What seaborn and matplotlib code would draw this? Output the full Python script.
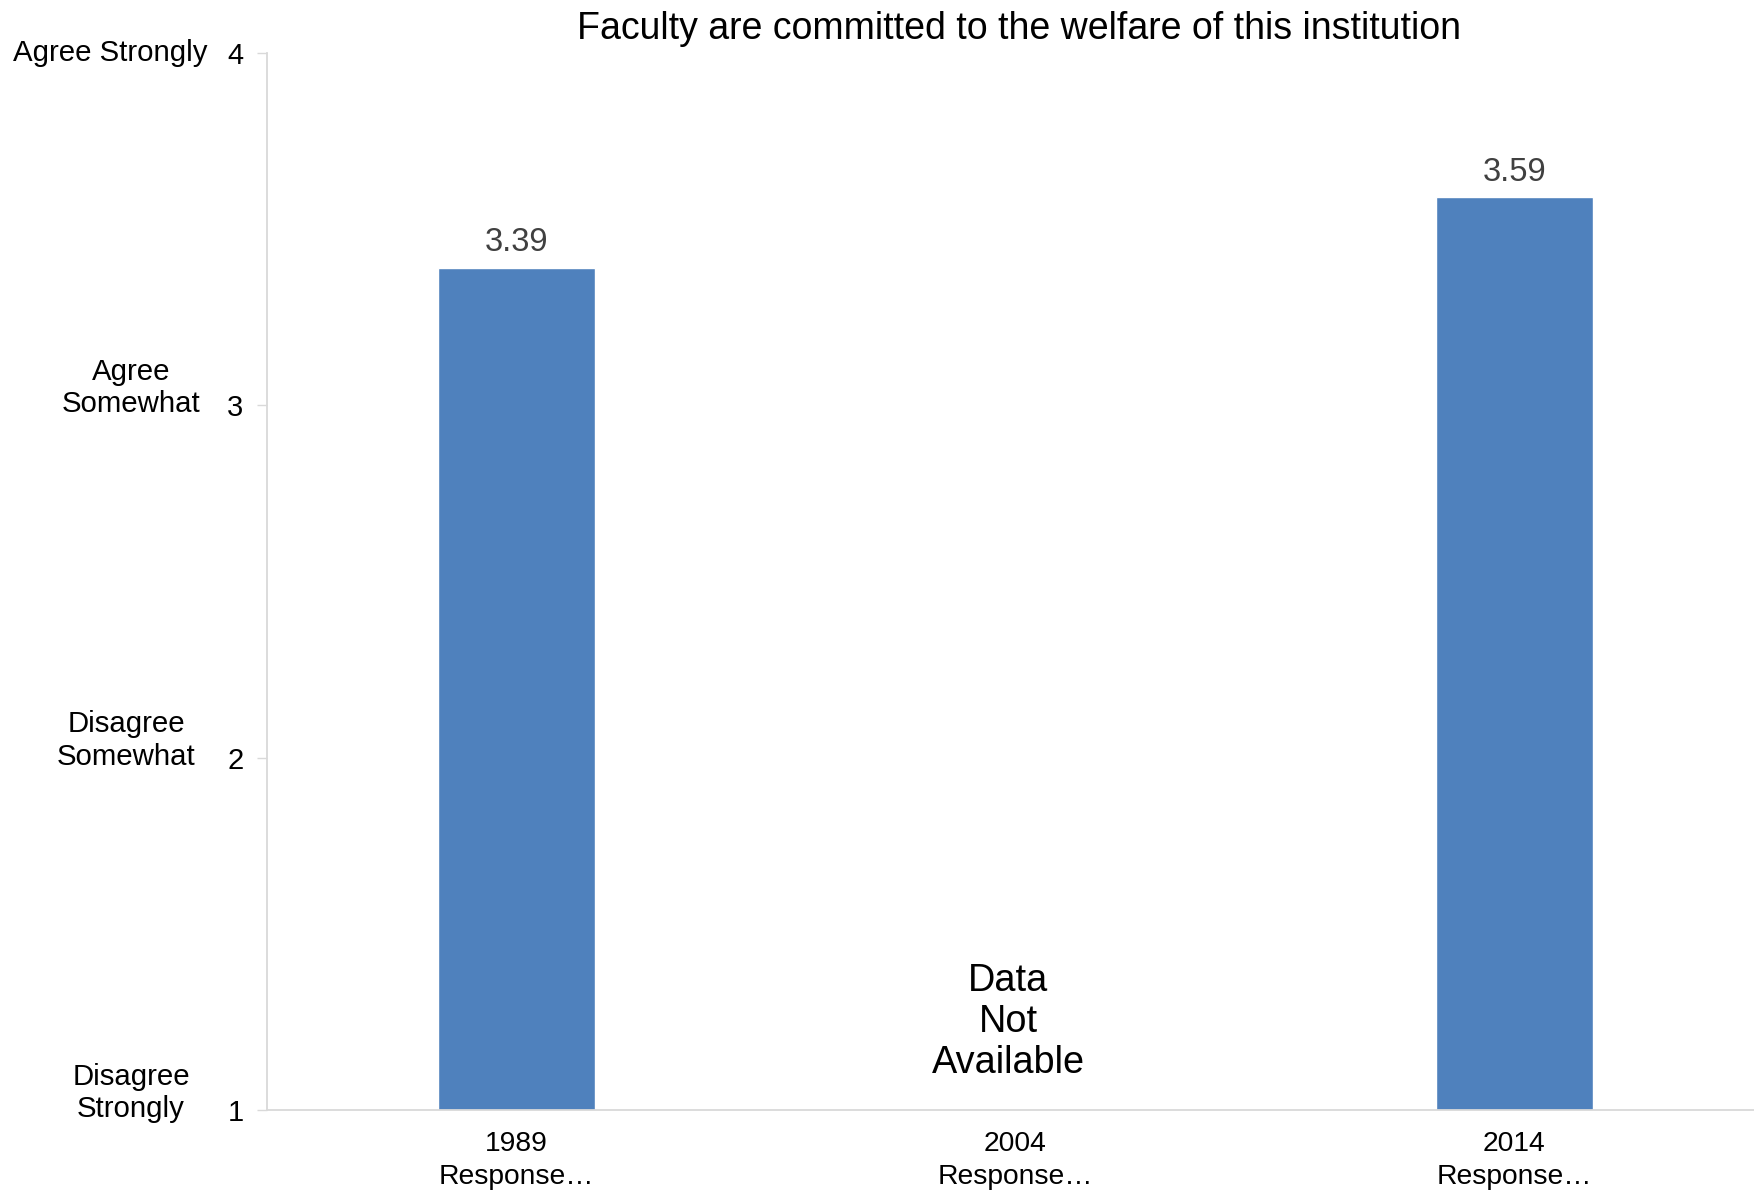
import numpy as np
import pandas as pd
import matplotlib
matplotlib.use("Agg")
import matplotlib.pyplot as plt
import matplotlib.transforms as mtransforms
import seaborn as sns

# ---- data ----
categories = ["1989\nResponse…", "2004\nResponse…", "2014\nResponse…"]
values = [3.39, np.nan, 3.59]
value_labels = ["3.39", "", "3.59"]
ytick_values = [1, 2, 3, 4]
ytick_text = ["Disagree\nStrongly", "Disagree\nSomewhat", "Agree\nSomewhat", "Agree Strongly"]
title = "Faculty are committed to the welfare of this institution"
missing_text = "Data\nNot\nAvailable"

# ---- layout ----
ylabel_x_px = [131, 126, 131, 110]   # centre x of the descriptive labels (figure px)
W, H = 1754, 1195
ax_left, ax_right = 267, 1764
ax_top, ax_bottom = 52.6, 1110

sns.set_theme(style="white")
plt.rcParams["font.family"] = ["Liberation Sans", "DejaVu Sans"]

fig = plt.figure(figsize=(W / 100, H / 100), dpi=100)
ax = fig.add_axes([ax_left / W, 1 - ax_bottom / H, (ax_right - ax_left) / W, (ax_bottom - ax_top) / H])

df = pd.DataFrame({"cat": categories, "val": values})
sns.barplot(data=df.dropna(), x="cat", y="val", order=categories,
            color="#4F81BD", saturation=1, width=0.315, ax=ax)

ax.set_ylim(1, 4)
ax.set_xlim(-0.5, 2.5)
ax.set_xlabel("")
ax.set_ylabel("")
ax.set_yticks(ytick_values)
ax.set_yticklabels([str(v) for v in ytick_values], fontsize=21, color="black")
ax.set_xticks(range(len(categories)))
ax.set_xticklabels(categories, linespacing=1.37)
ax.tick_params(axis="y", length=7, width=1, color="#d9d9d9", pad=10, left=True)
ax.tick_params(axis="x", length=0, pad=15, labelsize=20.3, labelcolor="black")

for s in ["top", "right"]:
    ax.spines[s].set_visible(False)
for s in ["left", "bottom"]:
    ax.spines[s].set_color("#d9d9d9")
    ax.spines[s].set_linewidth(1.3)

# value labels
for i, (v, t) in enumerate(zip(values, value_labels)):
    if t:
        ax.annotate(t, (i, v), xytext=(0, 18), textcoords="offset points",
                    ha="center", va="center", fontsize=23.5, color="#404040")

# missing data text
ax.text(0.985, 1.25, missing_text, ha="center", va="center", fontsize=27.3,
        color="black", linespacing=1.19, multialignment="center")

# descriptive y labels
for v, t, xp in zip(ytick_values, ytick_text, ylabel_x_px):
    nlines = t.count("\n") + 1
    off = mtransforms.ScaledTranslation(0, (nlines - 1) * 0.17, fig.dpi_scale_trans)
    trans = mtransforms.blended_transform_factory(fig.transFigure, ax.transData) + off
    ax.text(xp / W, v, t, transform=trans, ha="center", va="center",
            fontsize=21.2, color="black", linespacing=1.22, clip_on=False)

fig.text(1019 / W, 1 - 28.7 / H, title, ha="center", va="center",
         fontsize=27, color="black")

fig.savefig("out.png", dpi=100)
